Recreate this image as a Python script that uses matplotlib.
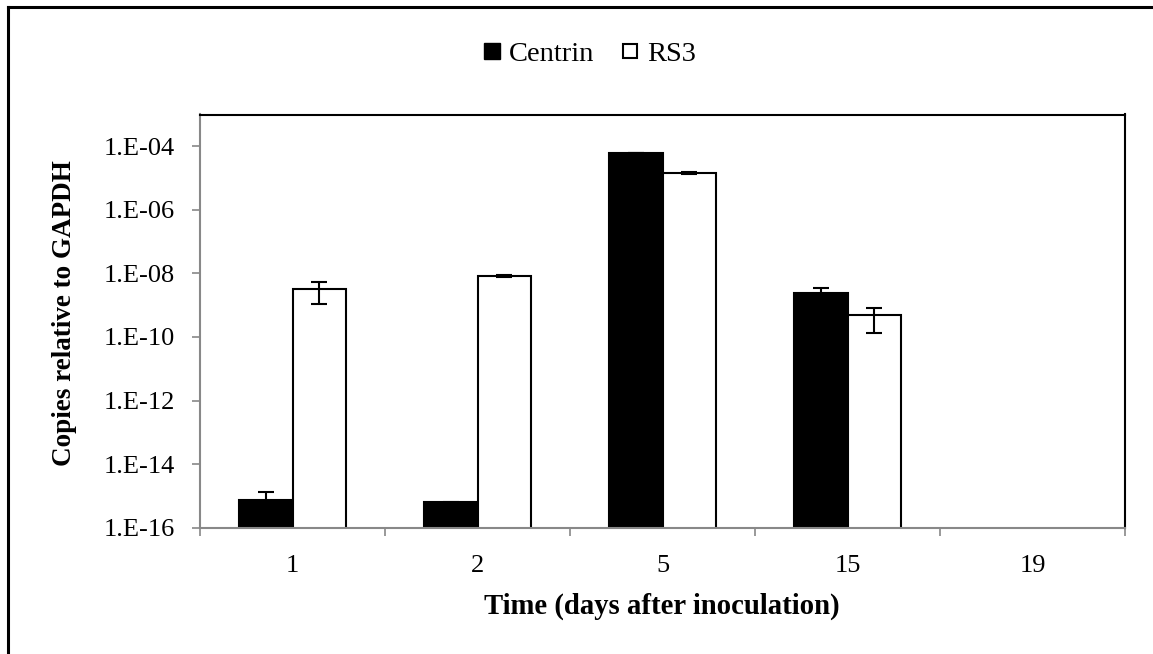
import numpy as np
import matplotlib
matplotlib.use("Agg")
import matplotlib.pyplot as plt
from matplotlib.lines import Line2D
from matplotlib.ticker import FixedLocator, NullFormatter, FixedFormatter

# ---- data ----
days = ["1", "2", "5", "15", "19"]
centrin = [7.4e-16, 6.3e-16, 6.2e-5, 2.5e-9, np.nan]
centrin_err = [5.6e-16, 0.2e-16, 0.0, 1.1e-9, np.nan]
rs3 = [3.2e-9, 8.5e-9, 1.45e-5, 4.8e-10, np.nan]
rs3_err = [2.1e-9, 0.6e-9, 0.15e-5, 3.5e-10, np.nan]
ytick_exps = [-16, -14, -12, -10, -8, -6, -4]

plt.rcParams['font.family'] = ['Liberation Serif', 'DejaVu Serif']

W, H = 1153, 654
fig = plt.figure(figsize=(W / 100, H / 100), dpi=100)
ax = fig.add_axes([200 / W, 1 - 527.7 / H, (1125 - 200) / W, (527.7 - 114.5) / H])

x = np.arange(len(days))
bw = 0.287
ax.set_yscale('log')
ax.set_ylim(1e-16, 1e-3)
ax.set_xlim(-0.5, len(days) - 0.5)

ax.bar(x - bw / 2, centrin, bw, bottom=1e-20, color='black', edgecolor='black', linewidth=1.5, zorder=2)
ax.bar(x + bw / 2, rs3, bw, bottom=1e-20, color='white', edgecolor='black', linewidth=1.5, zorder=2)
ax.errorbar(x - bw / 2, centrin, yerr=centrin_err, fmt='none', ecolor='black', elinewidth=1.5,
            capsize=5.6, capthick=1.5, zorder=3)
ax.errorbar(x + bw / 2, rs3, yerr=rs3_err, fmt='none', ecolor='black', elinewidth=1.5,
            capsize=5.6, capthick=1.5, zorder=3)

# y ticks
ax.yaxis.set_major_locator(FixedLocator([10.0 ** e for e in ytick_exps]))
ax.yaxis.set_major_formatter(FixedFormatter(["1.E%+03d" % e for e in ytick_exps]))
ax.yaxis.set_minor_locator(FixedLocator([]))
ax.tick_params(axis='y', which='major', direction='out', length=6, width=1.2, color='#888888',
               labelsize=19, pad=12)

# x ticks: marks at boundaries, labels at centres
ax.xaxis.set_major_locator(FixedLocator(np.arange(len(days) + 1) - 0.5))
ax.xaxis.set_major_formatter(NullFormatter())
ax.xaxis.set_minor_locator(FixedLocator(x))
ax.xaxis.set_minor_formatter(FixedFormatter(days))
ax.tick_params(axis='x', which='major', direction='out', length=6, width=1.2, color='#888888')
ax.tick_params(axis='x', which='minor', length=0, labelsize=19, pad=19.5)

for s in ['left', 'bottom']:
    ax.spines[s].set_color('#888888')
    ax.spines[s].set_linewidth(1.5)
for s in ['top', 'right']:
    ax.spines[s].set_color('black')
    ax.spines[s].set_linewidth(1.5)

fig.text(662 / W, 1 - 606 / H, "Time (days after inoculation)", ha='center', va='center',
         fontsize=20.7, fontweight='bold')
fig.text(65 / W, 1 - 313 / H, "Copies relative to GAPDH", ha='center', va='center',
         rotation=90, fontsize=19.5, fontweight='bold')

handles = [Line2D([], [], marker='s', linestyle='none', markersize=11, markerfacecolor='black',
                  markeredgecolor='black'),
           Line2D([], [], marker='s', linestyle='none', markersize=10, markerfacecolor='white',
                  markeredgecolor='black', markeredgewidth=1.5)]
fig.legend(handles, ["Centrin", "RS3"], loc='center', bbox_to_anchor=(589 / W, 1 - 54 / H),
           ncol=2, frameon=False, fontsize=20.5, handlelength=0.7, handletextpad=0.25,
           columnspacing=0.9)

# outer frame
fig.add_artist(Line2D([7.5 / W, 7.5 / W], [0, 1 - 6.5 / H], color='black', linewidth=2.2))
fig.add_artist(Line2D([7.5 / W, 1], [1 - 6.5 / H, 1 - 6.5 / H], color='black', linewidth=2.2))

fig.savefig("out.png", dpi=100)
